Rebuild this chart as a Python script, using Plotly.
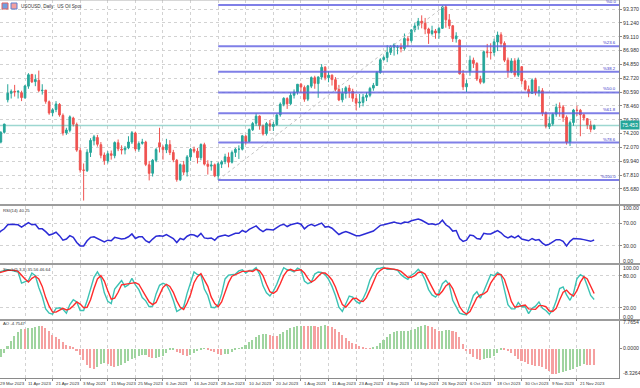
import plotly.graph_objects as go

# ---------------- data (read / estimated from the reference) ----------------
tick_bars = [0, 8, 16, 24, 32, 40, 48, 56, 64, 72, 80, 88, 96, 104, 112, 120, 128, 136, 144, 152, 160, 168]
tick_dates = ["29 Mar 2023", "11 Apr 2023", "21 Apr 2023", "3 May 2023", "15 May 2023", "25 May 2023",
              "6 Jun 2023", "16 Jun 2023", "28 Jun 2023", "10 Jul 2023", "20 Jul 2023", "1 Aug 2023",
              "11 Aug 2023", "23 Aug 2023", "4 Sep 2023", "14 Sep 2023", "26 Sep 2023", "6 Oct 2023",
              "18 Oct 2023", "30 Oct 2023", "9 Nov 2023", "21 Nov 2023"]

opens = [73.0, 72.9, 74.4, 79.4, 80.4, 80.7, 80.6, 80.5, 79.7, 81.5, 83.3, 82.2, 82.4, 80.8, 80.9, 79.1, 77.4, 77.9,
         78.7, 77.0, 74.3, 74.7, 76.6, 75.6, 71.6, 68.6, 68.5, 71.3, 73.1, 73.6, 72.5, 70.9, 70.0, 71.1, 70.8, 72.8,
         71.8, 71.7, 72.0, 72.9, 74.3, 71.8, 72.7, 72.9, 69.4, 68.1, 70.1, 72.8, 72.1, 71.7, 72.5, 71.3, 70.1, 67.1,
         69.4, 68.3, 70.6, 71.8, 71.5, 70.5, 72.5, 69.5, 69.2, 69.4, 67.7, 69.5, 69.9, 70.6, 69.8, 71.3, 71.8, 71.8,
         73.8, 73.0, 74.8, 75.8, 76.9, 75.4, 74.2, 75.7, 75.3, 75.6, 77.1, 78.7, 79.6, 78.8, 80.1, 80.6, 81.8, 81.3,
         79.5, 81.5, 82.8, 81.9, 82.9, 84.4, 82.8, 83.2, 82.5, 81.0, 79.4, 80.4, 81.2, 80.7, 79.6, 78.9, 79.0, 79.8,
         80.1, 81.2, 81.6, 83.6, 85.6, 85.9, 86.7, 87.5, 87.5, 87.5, 87.3, 88.8, 88.5, 90.2, 90.8, 91.5, 91.2, 90.3,
         89.6, 90.0, 89.7, 90.4, 93.7, 91.7, 90.8, 88.8, 88.6, 83.4, 81.4, 83.8, 85.5, 85.0, 82.6, 82.1, 86.8, 86.7,
         86.7, 88.3, 89.4, 88.1, 85.5, 83.7, 85.4, 83.2, 84.5, 82.3, 81.0, 80.4, 82.5, 80.5, 80.8, 77.4, 75.3, 75.7,
         77.2, 78.3, 78.3, 76.7, 72.9, 75.9, 77.8, 77.8, 77.1, 76.5, 75.5, 74.9]
highs = [73.6, 74.6, 75.7, 81.8, 81.0, 81.7, 80.9, 80.8, 81.7, 83.5, 83.4, 83.3, 83.9, 81.8, 80.9, 79.3, 78.1, 79.2,
         78.9, 77.3, 75.1, 77.0, 76.8, 75.9, 72.0, 69.6, 71.8, 73.5, 74.0, 74.0, 72.9, 71.3, 71.5, 71.6, 73.0, 73.3,
         72.4, 72.3, 73.8, 74.6, 74.5, 73.0, 73.4, 73.1, 70.0, 70.3, 72.0, 75.1, 72.4, 73.4, 73.2, 71.7, 70.3, 69.6,
         70.0, 70.9, 72.0, 72.2, 72.0, 72.7, 72.8, 70.1, 70.0, 69.6, 69.8, 70.1, 71.1, 71.3, 71.6, 72.0, 72.4, 74.0,
         74.0, 75.0, 76.0, 77.3, 77.0, 75.6, 76.0, 76.3, 76.0, 77.3, 79.0, 79.8, 79.8, 80.5, 81.0, 81.8, 82.0, 81.6,
         81.7, 83.0, 83.1, 83.0, 84.9, 84.6, 83.8, 83.3, 82.9, 81.7, 81.2, 81.5, 81.7, 81.1, 80.3, 80.3, 80.3, 80.6,
         81.4, 82.0, 83.8, 85.8, 86.2, 87.8, 87.8, 88.1, 87.8, 88.1, 89.6, 89.2, 90.3, 91.2, 92.0, 92.4, 92.0, 90.5,
         90.8, 90.3, 90.6, 93.9, 93.99, 92.6, 90.9, 89.8, 88.7, 84.0, 82.5, 86.2, 85.9, 85.2, 83.1, 87.0, 88.0, 88.1,
         88.8, 89.9, 89.8, 88.4, 85.9, 85.8, 85.8, 85.9, 84.6, 82.5, 81.6, 82.7, 82.8, 81.5, 81.2, 77.6, 76.8, 77.4,
         78.8, 79.0, 78.6, 77.0, 76.2, 78.0, 78.5, 78.0, 77.2, 76.6, 76.2, 75.6]
lows = [72.3, 72.7, 74.2, 79.0, 79.6, 79.9, 79.6, 79.2, 79.6, 81.1, 82.0, 81.5, 80.6, 80.2, 78.8, 77.1, 76.9, 77.5,
        76.8, 73.9, 74.0, 74.4, 75.3, 71.4, 68.2, 63.9, 68.3, 70.6, 72.4, 72.2, 70.4, 69.4, 69.6, 70.2, 70.4, 71.5,
        71.0, 71.0, 71.8, 72.6, 71.5, 71.4, 72.5, 69.2, 67.0, 67.6, 69.8, 71.3, 70.2, 71.2, 70.9, 69.8, 66.8, 66.9,
        67.8, 67.6, 70.0, 71.2, 69.6, 70.1, 69.3, 67.9, 68.5, 67.5, 67.07, 68.9, 69.5, 69.0, 69.6, 70.6, 70.3, 71.6,
        72.5, 72.9, 74.6, 75.4, 74.8, 73.9, 73.9, 74.6, 74.6, 75.4, 76.8, 78.4, 78.0, 78.6, 79.6, 80.2, 80.5, 79.1,
        79.2, 81.2, 81.1, 79.7, 82.5, 82.4, 82.1, 81.6, 80.7, 79.2, 79.0, 79.6, 79.7, 79.1, 77.8, 78.2, 78.4, 79.2,
        79.8, 80.8, 81.6, 83.4, 85.4, 85.2, 86.3, 86.2, 86.4, 86.7, 87.0, 87.6, 88.2, 89.8, 90.2, 90.4, 89.5, 88.0,
        89.3, 88.8, 88.8, 90.3, 90.5, 90.3, 88.3, 88.2, 83.3, 80.9, 80.6, 83.1, 84.3, 82.3, 81.8, 81.9, 85.9, 85.6,
        86.2, 86.9, 87.5, 85.2, 82.8, 83.5, 82.9, 82.9, 81.8, 80.8, 79.8, 80.3, 80.1, 79.9, 76.9, 75.0, 74.9, 75.4,
        76.8, 76.8, 76.0, 72.5, 72.3, 75.4, 76.9, 73.8, 76.2, 74.9, 74.4, 74.8]
closes = [72.97, 74.37, 75.67, 80.42, 80.71, 80.61, 80.70, 79.74, 81.53, 83.26, 82.16, 82.52, 80.83, 80.86, 79.16,
          77.37, 77.87, 78.76, 77.07, 74.30, 74.76, 76.78, 75.66, 71.66, 68.60, 68.56, 71.34, 73.16, 73.71, 72.56,
          70.87, 70.04, 71.11, 70.86, 72.83, 71.86, 71.69, 71.99, 72.91, 74.34, 71.83, 72.67, 72.90, 69.46, 68.09,
          70.10, 71.74, 72.15, 71.74, 72.53, 71.29, 70.17, 67.12, 69.42, 68.27, 70.62, 71.78, 71.50, 70.50, 72.53,
          69.51, 69.16, 69.37, 67.70, 69.56, 69.86, 70.64, 69.79, 71.30, 71.79, 71.80, 73.86, 72.99, 74.83, 75.75,
          76.89, 75.42, 74.15, 75.75, 75.35, 75.63, 77.07, 78.74, 79.63, 78.78, 80.09, 80.58, 81.80, 81.37, 79.49,
          81.55, 82.82, 81.94, 82.92, 84.40, 82.82, 83.19, 82.51, 80.99, 79.38, 80.39, 81.25, 80.72, 79.64, 78.89,
          79.05, 79.83, 80.10, 81.16, 81.63, 83.63, 85.55, 85.90, 86.69, 87.54, 87.87, 87.51, 87.29, 88.84, 88.52,
          90.16, 90.77, 91.48, 91.20, 90.28, 89.63, 90.03, 89.68, 90.39, 93.68, 91.71, 90.79, 88.82, 89.23, 83.40,
          81.40, 81.90, 85.50, 85.00, 82.60, 82.10, 86.80, 86.66, 86.66, 88.32, 89.37, 88.08, 85.49, 83.74, 85.39,
          83.21, 85.54, 82.31, 81.02, 80.44, 82.46, 80.51, 80.82, 77.37, 75.33, 75.74, 77.17, 78.26, 78.26, 76.66,
          72.90, 75.89, 77.83, 77.77, 77.10, 76.60, 75.54, 74.86, 75.45]

rsi = [50, 56, 60, 67, 68, 67, 67, 63, 67, 71, 67, 68, 60, 60, 55, 49, 51, 54, 48, 40, 42, 48, 45, 36, 30, 30, 39,
       45, 46, 43, 39, 37, 40, 39, 45, 43, 42, 43, 46, 51, 43, 46, 46, 39, 36, 42, 47, 48, 47, 50, 46, 43, 36, 43,
       41, 47, 50, 49, 46, 52, 44, 43, 44, 40, 46, 47, 49, 47, 50, 52, 52, 57, 54, 59, 62, 65, 59, 55, 59, 58, 58,
       62, 66, 68, 64, 67, 68, 70, 68, 60, 65, 68, 65, 67, 70, 63, 64, 61, 55, 50, 53, 55, 53, 50, 48, 48, 50, 51,
       54, 56, 61, 66, 67, 69, 71, 72, 70, 69, 72, 71, 74, 75, 77, 75, 71, 68, 69, 67, 69, 75, 67, 63, 56, 57, 43,
       38, 40, 49, 48, 43, 42, 52, 51, 51, 54, 57, 53, 47, 44, 47, 44, 48, 42, 40, 39, 43, 40, 41, 35, 31, 33, 37,
       41, 41, 38, 30, 38, 43, 43, 42, 41, 39, 38, 40.25]
stoch_k = [86, 88, 90, 91, 90, 88, 87, 66, 68, 71, 85, 80, 58, 41, 18, 10, 8, 19, 20, 17, 10, 26, 35, 31, 15, 15,
           33, 57, 77, 87, 76, 48, 32, 28, 55, 63, 71, 59, 63, 75, 63, 54, 39, 33, 22, 23, 46, 62, 66, 63, 51, 34,
           13, 17, 22, 47, 66, 87, 82, 82, 55, 43, 21, 20, 26, 46, 74, 81, 82, 83, 89, 91, 85, 90, 90, 95, 83, 61,
           48, 42, 51, 64, 81, 95, 91, 90, 87, 94, 91, 70, 65, 68, 83, 87, 86, 82, 73, 60, 43, 21, 13, 28, 42, 40,
           32, 28, 37, 51, 72, 84, 93, 94, 96, 92, 92, 92, 90, 82, 77, 73, 81, 85, 92, 85, 72, 54, 44, 40, 48, 65,
           71, 63, 34, 22, 10, 8, 7, 25, 43, 50, 38, 51, 65, 82, 80, 86, 81, 52, 26, 18, 18, 30, 22, 22, 9, 19, 23,
           31, 19, 15, 8, 16, 33, 56, 59, 44, 34, 47, 74, 82, 78, 61, 43, 35.56]
stoch_d = [85, 86, 88, 90, 90, 90, 88, 80, 74, 68, 75, 79, 74, 60, 39, 23, 12, 12, 16, 19, 16, 18, 24, 31, 27, 20,
           21, 35, 56, 74, 80, 70, 52, 36, 38, 49, 63, 64, 64, 66, 67, 64, 52, 42, 31, 26, 30, 44, 58, 64, 60, 49,
           33, 21, 17, 29, 45, 67, 78, 84, 73, 60, 40, 28, 22, 31, 49, 67, 79, 82, 85, 88, 88, 89, 88, 92, 89, 80,
           64, 50, 47, 52, 65, 80, 89, 92, 89, 90, 91, 85, 75, 68, 72, 79, 85, 85, 80, 72, 59, 41, 26, 21, 28, 37,
           38, 33, 32, 39, 53, 69, 83, 90, 94, 94, 93, 92, 91, 88, 83, 77, 77, 80, 86, 87, 83, 70, 57, 46, 44, 51,
           61, 66, 56, 40, 22, 13, 8, 13, 25, 39, 44, 46, 51, 66, 76, 83, 82, 73, 53, 32, 21, 22, 23, 25, 18, 17,
           17, 24, 24, 22, 14, 13, 19, 35, 49, 53, 46, 42, 52, 68, 78, 74, 61, 46.64]
ao = [-3.26, -2.37, -1.14, 0.59, 2.01, 3.51, 4.73, 5.64, 5.57, 5.74, 5.91, 6.15, 6.41, 6.35, 5.79, 4.89, 3.95,
      3.22, 2.61, 1.80, 1.11, 0.76, 0.24, -0.67, -1.81, -3.34, -4.54, -5.49, -5.69, -5.18, -4.25, -4.21, -4.49,
      -4.88, -5.13, -4.94, -4.57, -4.10, -3.50, -2.91, -2.57, -2.24, -1.76, -1.76, -2.36, -2.78, -2.70, -2.42,
      -2.14, -1.21, -0.43, -0.23, -0.89, -1.28, -1.80, -2.17, -1.97, -1.28, -0.79, -0.43, -0.10, -0.41, -0.78,
      -1.10, -1.59, -1.88, -1.61, -1.41, -0.97, -0.37, 0.01, 0.48, 1.09, 1.75, 2.48, 3.36, 3.89, 4.09, 4.10, 3.93,
      3.60, 3.59, 4.03, 4.66, 5.15, 5.74, 6.18, 6.43, 6.49, 6.46, 6.36, 6.41, 6.30, 6.03, 6.33, 6.51, 6.28, 5.94,
      5.64, 4.66, 3.70, 2.91, 2.26, 1.66, 1.16, 0.80, 0.38, 0.04, -0.01, 0.31, 0.80, 1.56, 2.42, 3.27, 4.06, 4.63,
      4.86, 4.94, 5.02, 5.03, 5.19, 5.59, 6.04, 6.33, 6.50, 6.29, 5.97, 5.41, 4.90, 4.92, 5.24, 5.26, 5.04, 4.65,
      3.20, 1.30, -0.60, -1.60, -2.50, -3.10, -3.30, -2.90, -2.70, -2.60, -2.10, -1.20, -0.45, -0.50, -0.83,
      -1.33, -2.06, -2.82, -3.39, -3.73, -4.27, -4.58, -4.88, -5.07, -5.24, -5.74, -6.46, -7.08, -7.31, -7.05,
      -6.70, -6.35, -6.05, -5.70, -5.30, -4.95, -4.45, -4.55, -4.65, -4.75]

fib_levels = [93.99, 87.64, 83.71, 80.53, 77.35, 72.83, 67.07]
fib_labels = ["%0.0", "%23.6", "%38.2", "%50.0", "%61.8", "%78.6", "%100.0"]
fib_anchor_bars = [64, 130]
fib_anchor_prices = [67.07, 93.99]
last_price = 75.453

price_ticks = [65.680, 67.810, 69.940, 72.070, 74.200, 76.330, 78.460, 80.590, 82.720, 84.850,
               86.980, 89.110, 91.240, 93.370]
rsi_ticks = [30, 70]
stoch_ticks = [20, 80]
ao_min, ao_max = -8.3264, 7.7654

# ---------------- layout geometry ----------------
W, H_FIG = 640, 388
MB = 10
PH = H_FIG - MB          # plot-area height in px
PR = 21                  # right margin in px


def dom(top_px, bottom_px):
    return [1 - bottom_px / PH, 1 - top_px / PH]


bars = list(range(len(closes)))
x_range = [0.754, 180.2]
px_per_bar = (W - PR) / (x_range[1] - x_range[0])

TEAL = "#26a69a"
RED = "#ef5350"
GRID = "#d2d2d2"
AXIS = "#8a8a8a"
TXT = "#333333"
FONT = "Liberation Sans"

fig = go.Figure()

# main pane: candles
fig.add_trace(go.Candlestick(
    x=bars, open=opens, high=highs, low=lows, close=closes,
    increasing=dict(line=dict(color=TEAL, width=1), fillcolor=TEAL),
    decreasing=dict(line=dict(color=RED, width=1), fillcolor=RED),
    whiskerwidth=0, xaxis="x", yaxis="y", hoverinfo="skip"))

# current price line
fig.add_trace(go.Scatter(x=[x_range[0] - 1, x_range[1] + 1], y=[last_price, last_price], mode="lines",
                         line=dict(color="rgba(38,166,154,0.45)", width=1.5), xaxis="x", yaxis="y",
                         hoverinfo="skip"))

# fibonacci anchor (dotted diagonal)
fig.add_trace(go.Scatter(x=fib_anchor_bars, y=fib_anchor_prices, mode="lines",
                         line=dict(color="#c4c4c4", width=1, dash="dot"), xaxis="x", yaxis="y",
                         hoverinfo="skip"))

# fibonacci levels
for lvl in fib_levels:
    fig.add_trace(go.Scatter(x=[fib_anchor_bars[0], x_range[1] + 2], y=[lvl, lvl], mode="lines",
                             line=dict(color="rgba(95,95,225,0.8)", width=2), xaxis="x", yaxis="y",
                             hoverinfo="skip"))

# RSI
fig.add_trace(go.Scatter(x=bars, y=rsi, mode="lines", line=dict(color="#2b2bd6", width=1.5),
                         xaxis="x2", yaxis="y2", hoverinfo="skip"))

# Stochastic
fig.add_trace(go.Scatter(x=bars, y=stoch_k, mode="lines", line=dict(color="#3cc2b4", width=1.4),
                         xaxis="x3", yaxis="y3", hoverinfo="skip"))
fig.add_trace(go.Scatter(x=bars, y=stoch_d, mode="lines", line=dict(color="#ff2b2b", width=1.4),
                         xaxis="x3", yaxis="y3", hoverinfo="skip"))

# Awesome Oscillator
ao_colors = ["#9fd49f" if (i == 0 or ao[i] >= ao[i - 1]) else "#f5a0a0" for i in range(len(ao))]
fig.add_trace(go.Bar(x=bars, y=ao, width=0.45, marker=dict(color=ao_colors, line=dict(width=0)),
                     xaxis="x4", yaxis="y4", hoverinfo="skip"))

# ---------------- axes ----------------
common_x = dict(range=x_range, showgrid=True, gridcolor=GRID, griddash="dot", gridwidth=1,
                tickmode="array", tickvals=tick_bars, zeroline=False, showline=False,
                showticklabels=False, fixedrange=True, automargin=False)
common_y = dict(side="right", showline=True, linecolor=AXIS, linewidth=1, ticks="outside",
                ticklen=2, tickcolor=AXIS, tickfont=dict(family=FONT, size=5.2, color=TXT),
                showgrid=True, gridcolor=GRID, griddash="dot", zeroline=False, fixedrange=True,
                automargin=False)

fig.update_layout(
    xaxis=dict(common_x, anchor="y", rangeslider=dict(visible=False)),
    xaxis2=dict(common_x, anchor="y2", matches="x"),
    xaxis3=dict(common_x, anchor="y3", matches="x"),
    xaxis4=dict(common_x, anchor="y4", matches="x", ticks="outside", ticklen=2, tickcolor=AXIS,
                showline=True, linecolor=AXIS, linewidth=1),
    yaxis=dict(common_y, domain=dom(0, 204), range=[63.37, 94.76], tickmode="array",
               tickvals=price_ticks, ticktext=[f"{v:.3f}" for v in price_ticks], anchor="x"),
    yaxis2=dict(common_y, domain=dom(206, 263), range=[0, 100], tickmode="array",
                tickvals=rsi_ticks, ticktext=[f"{v:.2f}" for v in rsi_ticks], anchor="x2"),
    yaxis3=dict(common_y, domain=dom(265, 318.5), range=[0, 100], tickmode="array",
                tickvals=stoch_ticks, ticktext=[f"{v:.2f}" for v in stoch_ticks], anchor="x3"),
    yaxis4=dict(common_y, domain=dom(321, PH), range=[ao_min, ao_max], tickmode="array",
                tickvals=[0], ticktext=["0.0000"], showgrid=False, anchor="x4"),
)

# ---------------- annotations ----------------
ann = []
small = dict(family=FONT, size=4.3, color=TXT)
axis_font = dict(family=FONT, size=5.2, color=TXT)

for b, t in zip(tick_bars, tick_dates):
    if b < x_range[0]:
        # label whose bar lies just left of the visible window: anchor at the edge, shift left
        ann.append(dict(x=x_range[0], y=0, xref="x4", yref="paper", text=t, showarrow=False,
                        xanchor="left", yanchor="top", xshift=1 - (x_range[0] - b) * px_per_bar,
                        yshift=-1, font=small))
    else:
        ann.append(dict(x=b, y=0, xref="x4", yref="paper", text=t, showarrow=False, xanchor="left",
                        yanchor="top", xshift=1, yshift=-1, font=small))

for lvl, lab in zip(fib_levels, fib_labels):
    ann.append(dict(x=1, y=lvl, xref="paper", yref="y", text=lab, showarrow=False, xanchor="right",
                    yanchor="bottom", xshift=-1, yshift=-1,
                    font=dict(family=FONT, size=4.3, color="#3434c8")))

# edge labels on the price axis of the indicator panes
edge_labels = [("y2", 100, "100.00", -2), ("y2", 0, "0.00", 2),
               ("y3", 100, "100.00", -3), ("y3", 0, "0.00", 2),
               ("y4", ao_max, f"{ao_max:.4f}", -1), ("y4", ao_min, f"{ao_min:.4f}", 5)]
for yr, v, t, sh in edge_labels:
    ann.append(dict(x=1, y=v, xref="paper", yref=yr, text=t, showarrow=False, xanchor="left",
                    yanchor="middle", xshift=2, yshift=sh, font=axis_font))

# current price box
ann.append(dict(x=1, y=last_price, xref="paper", yref="y", text=f"{last_price:.3f}", showarrow=False,
                xanchor="left", yanchor="middle", xshift=1, bgcolor=TEAL, borderpad=1,
                font=dict(family=FONT, size=5.2, color="white")))

# pane titles
ann.append(dict(x=19 / (W - PR), y=1, xref="paper", yref="paper", text="USOUSD, Daily:  US Oil Spot",
                showarrow=False, xanchor="left", yanchor="top", yshift=-2,
                font=dict(family=FONT, size=4.6, color=TXT)))
ann.append(dict(x=0.002, y=1 - 210 / PH, xref="paper", yref="paper", text=f"RSI(14) {rsi[-1]:.2f}",
                showarrow=False, xanchor="left", yanchor="middle", font=small))
ann.append(dict(x=0.002, y=1 - 269 / PH, xref="paper", yref="paper",
                text=f"Stoch(5,3,3) {stoch_k[-1]:.2f} {stoch_d[-1]:.2f}",
                showarrow=False, xanchor="left", yanchor="middle", font=small))
ann.append(dict(x=0.002, y=1 - 323.5 / PH, xref="paper", yref="paper", text="AO -4.7547",
                showarrow=False, xanchor="left", yanchor="middle", font=small))

# ---------------- shapes: pane separators and title icons ----------------
shapes = []
for sep_px in [205, 264, 320]:
    shapes.append(dict(type="line", xref="paper", yref="paper", x0=0, x1=1 + PR / (W - PR),
                       y0=1 - sep_px / PH, y1=1 - sep_px / PH, line=dict(color="#9c9c9c", width=2)))
shapes.append(dict(type="line", xref="paper", yref="paper", x0=0, x1=1, y0=1, y1=1,
                   line=dict(color="#b0b0b0", width=1)))
shapes.append(dict(type="rect", xref="paper", yref="paper", x0=2 / (W - PR), x1=8 / (W - PR),
                   y0=1 - 9 / PH, y1=1 - 3 / PH, fillcolor="#6f9ee0", line=dict(color="#e06060", width=1)))
shapes.append(dict(type="rect", xref="paper", yref="paper", x0=11 / (W - PR), x1=17 / (W - PR),
                   y0=1 - 9 / PH, y1=1 - 3 / PH, fillcolor="#f3a0a0", line=dict(color="#5a7fd0", width=1)))

fig.update_layout(
    width=W, height=H_FIG, margin=dict(l=0, r=PR, t=0, b=MB, autoexpand=False),
    paper_bgcolor="white", plot_bgcolor="white", showlegend=False, bargap=0,
    annotations=ann, shapes=shapes, hovermode=False,
)

fig.write_html("out.html", config={"displayModeBar": False},
               post_script="document.body.style.margin='0';document.body.style.padding='0';"
                           "document.documentElement.style.overflow='hidden';")
